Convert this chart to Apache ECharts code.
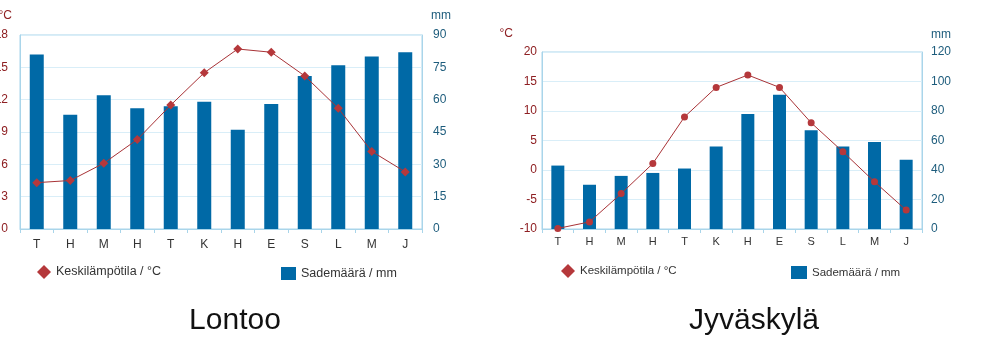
<!DOCTYPE html>
<html>
<head>
<meta charset="utf-8">
<script src="https://cdn.jsdelivr.net/npm/echarts@6/dist/echarts.min.js"></script>
<style>
html,body{margin:0;padding:0;background:#fff;}
#c{width:983px;height:361px;}
</style>
</head>
<body>
<div id="c"></div>
<script>
var months = ['T','H','M','H','T','K','H','E','S','L','M','J'];
var londonTemp = [4.3, 4.5, 6.1, 8.3, 11.5, 14.5, 16.7, 16.4, 14.2, 11.2, 7.2, 5.3];
var londonRain = [81, 53, 62, 56, 57, 59, 46, 58, 71, 76, 80, 82];
var jkylaTemp = [-9.9, -8.8, -4.0, 1.1, 9.0, 14.0, 16.1, 14.0, 8.0, 3.1, -2.0, -6.8];
var jkylaRain = [43, 30, 36, 38, 41, 56, 78, 91, 67, 56, 59, 47];
var tempName = 'Keskilämpötila / °C';
var rainName = 'Sademäärä / mm';

var FONT = '"Liberation Sans", Arial, sans-serif';
var RED = '#8e1f22';
var BLUE_TXT = '#1d5c7c';
var BAR = '#0069a6';
var LINE = '#a83236';
var MARK = '#b5383b';
var AXIS = '#a9d5ea';
var SPLIT = '#d9eef8';

var chart = echarts.init(document.getElementById('c'), null, {renderer: 'canvas'});

function yAxisL(idx, min, max, interval, nameGap) {
  return {
    type: 'value', gridIndex: idx, position: 'left', min: min, max: max, interval: interval,
    name: '°C', nameLocation: 'end', nameGap: nameGap,
    nameTextStyle: {color: RED, fontFamily: FONT, fontSize: 12, align: 'right', padding: [0, idx === 0 ? 8 : 29, 0, 0]},
    axisLine: {show: true, onZero: false, lineStyle: {color: AXIS}},
    axisTick: {show: false},
    axisLabel: {color: RED, fontFamily: FONT, fontSize: 12, margin: idx === 0 ? 12 : 5},
    splitLine: {show: true, lineStyle: {color: SPLIT}}
  };
}
function yAxisR(idx, min, max, interval, nameGap) {
  return {
    type: 'value', gridIndex: idx, position: 'right', min: min, max: max, interval: interval,
    name: 'mm', nameLocation: 'end', nameGap: nameGap,
    nameTextStyle: {color: BLUE_TXT, fontFamily: FONT, fontSize: 12, align: 'left', padding: [0, 0, 0, 9]},
    axisLine: {show: true, onZero: false, lineStyle: {color: AXIS}},
    axisTick: {show: false},
    axisLabel: {color: BLUE_TXT, fontFamily: FONT, fontSize: 12, margin: idx === 0 ? 11 : 9},
    splitLine: {show: false}
  };
}
function xAxis(idx, margin, fs) {
  return {
    type: 'category', gridIndex: idx, data: months, boundaryGap: true,
    axisLine: {show: true, onZero: false, lineStyle: {color: AXIS}},
    axisTick: {show: true, length: 4, lineStyle: {color: AXIS}},
    axisLabel: {color: '#333', fontFamily: FONT, fontSize: fs, margin: margin}
  };
}

var option = {
  animation: false,
  backgroundColor: '#fff',
  title: [
    {text: 'Lontoo', left: 230, top: 301, textAlign: 'center',
     textStyle: {fontFamily: FONT, fontSize: 30, fontWeight: 'normal', color: '#111'}},
    {text: 'Jyväskylä', left: 749, top: 301, textAlign: 'center',
     textStyle: {fontFamily: FONT, fontSize: 30, fontWeight: 'normal', color: '#111'}}
  ],
  legend: [
    {data: [{name: tempName, icon: 'diamond'}], left: 32, top: 260, itemWidth: 14, itemHeight: 14, itemGap: 5,
     textStyle: {fontFamily: FONT, fontSize: 12.5, color: '#333'}, selectedMode: false},
    {data: [{name: rainName, icon: 'rect'}], left: 276, top: 262, itemWidth: 15, itemHeight: 13,
     textStyle: {fontFamily: FONT, fontSize: 12.5, color: '#333'}, selectedMode: false},
    {data: [{name: tempName, icon: 'diamond'}], left: 556, top: 259, itemWidth: 14, itemHeight: 14,
     textStyle: {fontFamily: FONT, fontSize: 11.5, color: '#333'}, selectedMode: false},
    {data: [{name: rainName, icon: 'rect'}], left: 786, top: 261, itemWidth: 16, itemHeight: 13,
     textStyle: {fontFamily: FONT, fontSize: 11.5, color: '#333'}, selectedMode: false}
  ],
  grid: [
    {left: 20, right: 561, top: 35, bottom: 132, show: true, borderColor: AXIS, borderWidth: 1,
     backgroundColor: 'transparent', containLabel: false, outerBoundsMode: 'none'},
    {left: 542, right: 61, top: 52, bottom: 132, show: true, borderColor: AXIS, borderWidth: 1,
     backgroundColor: 'transparent', containLabel: false, outerBoundsMode: 'none'}
  ],
  xAxis: [xAxis(0, 10, 12), xAxis(1, 7, 11)],
  yAxis: [
    yAxisL(0, 0, 18, 3, 13),
    yAxisR(0, 0, 90, 15, 13),
    yAxisL(1, -10, 20, 5, 12),
    yAxisR(1, 0, 120, 20, 11)
  ],
  series: [
    {name: rainName, type: 'bar', xAxisIndex: 0, yAxisIndex: 1, data: londonRain,
     barWidth: 14, itemStyle: {color: BAR}, z: 1},
    {name: tempName, type: 'line', xAxisIndex: 0, yAxisIndex: 0, data: londonTemp,
     symbol: 'diamond', symbolSize: 9, lineStyle: {color: LINE, width: 1}, itemStyle: {color: MARK}, z: 3},
    {name: rainName, type: 'bar', xAxisIndex: 1, yAxisIndex: 3, data: jkylaRain,
     barWidth: 13, itemStyle: {color: BAR}, z: 1},
    {name: tempName, type: 'line', xAxisIndex: 1, yAxisIndex: 2, data: jkylaTemp,
     symbol: 'circle', symbolSize: 7, lineStyle: {color: LINE, width: 1}, itemStyle: {color: MARK}, z: 3}
  ]
};
chart.setOption(option);
</script>
</body>
</html>
